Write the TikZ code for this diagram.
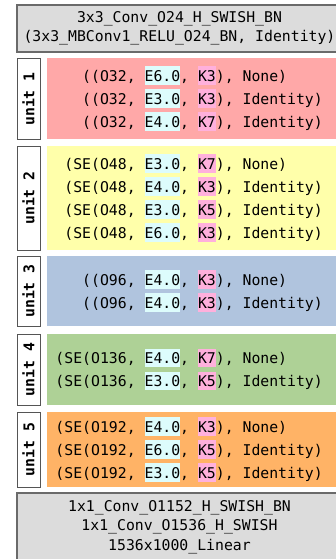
\documentclass[tikz,border=0pt]{standalone}
\usepackage{fontspec}
\setmainfont{DejaVu Sans Mono}
\definecolor{stemgray}{HTML}{DCDCDC}
\definecolor{edgegray}{HTML}{6A6A6A}
\definecolor{unitred}{HTML}{FFA8A8}
\definecolor{unityellow}{HTML}{FFFFAA}
\definecolor{unitblue}{HTML}{B0C4DE}
\definecolor{unitgreen}{HTML}{AED196}
\definecolor{unitorange}{HTML}{FFB366}
\definecolor{ecyan}{HTML}{DDFCFC}
\definecolor{kpink}{HTML}{FFB0DC}
\newcommand{\hlstrut}{\rule[-3.5pt]{0pt}{18.5pt}}
\newcommand{\hE}[1]{{\setlength{\fboxsep}{0pt}\colorbox{ecyan}{\hlstrut#1}}}
\newcommand{\hK}[1]{{\setlength{\fboxsep}{0pt}\colorbox{kpink}{\hlstrut#1}}}
\frenchspacing
\begin{document}
\begin{tikzpicture}[x=1pt,y=-1pt,
  graybox/.style={draw=edgegray, line width=1.2pt, fill=stemgray},
  tag/.style={draw=edgegray!80!black, line width=1pt, fill=white, rotate=90, inner sep=0pt, minimum height=23pt, font=\fontsize{14.8}{18}\selectfont\bfseries},
  rows/.style={anchor=east, align=left, inner sep=0pt, font=\fontsize{14.8}{23}\selectfont},
  lines/.style={align=center, inner sep=0pt, font=\fontsize{14.8}{19.5}\selectfont}]
\useasboundingbox (0,0) rectangle (336,559);
\clip (0,0) rectangle (336,559);
\draw[graybox] (17,5) rectangle (345,52);
\node[lines] (stem) at (179.5,28.5) {3x3\_Conv\_O24\_H\_SWISH\_BN\\(3x3\_MBConv1\_RELU\_O24\_BN, Identity)};
\fill[unitred] (47,58) rectangle (345,139);
\node[tag, minimum width=80pt] (tag1) at (28.5,99) {unit 1};
\node[rows] (rows1) at (323,98.5) {((O32, \hE{E6.0}, \hK{K3}), None)\\((O32, \hE{E3.0}, \hK{K3}), Identity)\\((O32, \hE{E4.0}, \hK{K7}), Identity)};
\fill[unityellow] (47,146) rectangle (345,250);
\node[tag, minimum width=104pt] (tag2) at (28.5,198) {unit 2};
\node[rows] (rows2) at (323,198) {(SE(O48, \hE{E3.0}, \hK{K7}), None)\\(SE(O48, \hE{E4.0}, \hK{K3}), Identity)\\(SE(O48, \hE{E3.0}, \hK{K5}), Identity)\\(SE(O48, \hE{E6.0}, \hK{K3}), Identity)};
\fill[unitblue] (47,256) rectangle (345,326);
\node[tag, minimum width=70pt] (tag3) at (28.5,291) {unit 3};
\node[rows] (rows3) at (323,291) {((O96, \hE{E4.0}, \hK{K3}), None)\\((O96, \hE{E4.0}, \hK{K3}), Identity)};
\fill[unitgreen] (47,334) rectangle (345,405);
\node[tag, minimum width=71pt] (tag4) at (28.5,369.5) {unit 4};
\node[rows] (rows4) at (323,369.5) {(SE(O136, \hE{E4.0}, \hK{K7}), None)\\(SE(O136, \hE{E3.0}, \hK{K5}), Identity)};
\fill[unitorange] (47,412) rectangle (345,487);
\node[tag, minimum width=75pt] (tag5) at (28.5,449.5) {unit 5};
\node[rows] (rows5) at (323,449.5) {(SE(O192, \hE{E4.0}, \hK{K3}), None)\\(SE(O192, \hE{E6.0}, \hK{K5}), Identity)\\(SE(O192, \hE{E3.0}, \hK{K5}), Identity)};
\draw[graybox] (17,493) rectangle (345,570);
\node[lines] (head) at (179.5,527) {1x1\_Conv\_O1152\_H\_SWISH\_BN\\1x1\_Conv\_O1536\_H\_SWISH\\1536x1000\_Linear};
\end{tikzpicture}
\end{document}
